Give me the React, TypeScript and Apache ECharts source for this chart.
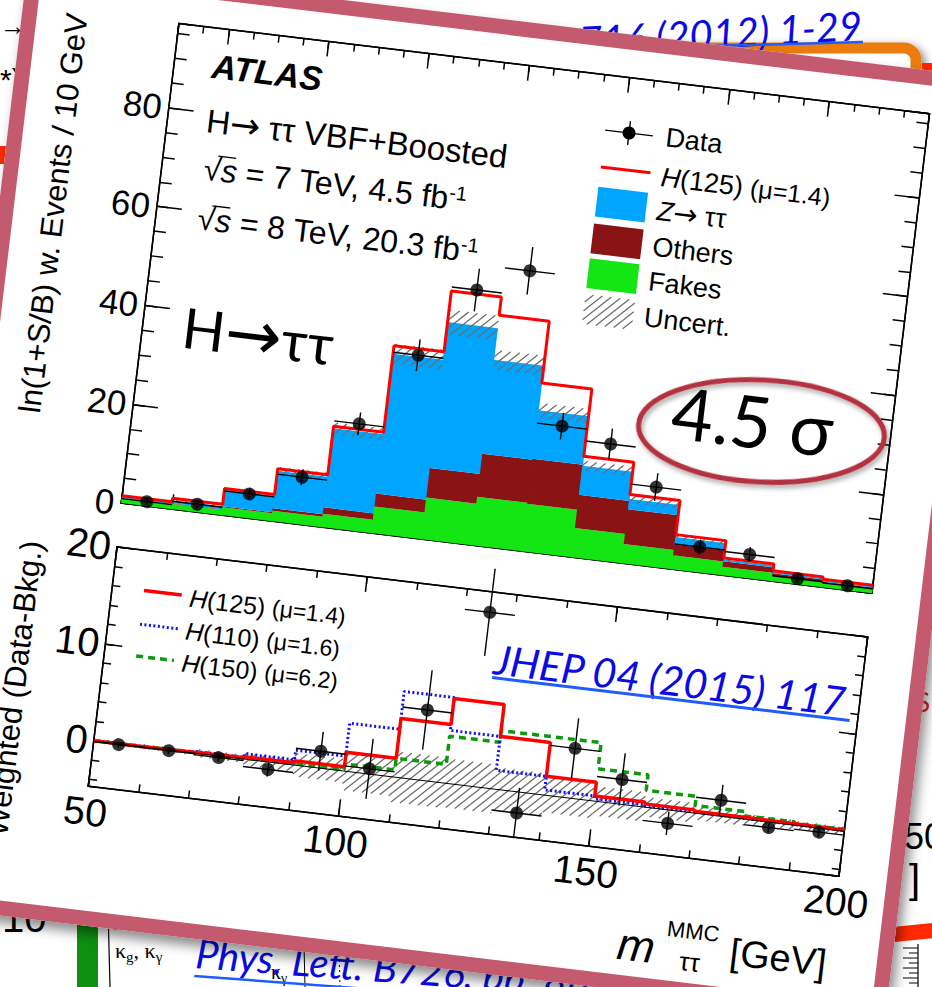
import React, { useEffect, useRef } from "react";
import * as echarts from "echarts";

// ---------------- data ----------------
const binLow = [50, 60, 70, 80, 90, 100, 110, 120, 130, 140, 150, 160, 170, 180, 190];
const binHigh = [60, 70, 80, 90, 100, 110, 120, 130, 140, 150, 160, 170, 180, 190, 200];
const binCenter = [55, 65, 75, 85, 95, 105, 115, 125, 135, 145, 155, 165, 175, 185, 195];

// upper panel: ln(1+S/B)-weighted events / 10 GeV
const fakes = [0.9, 1.1, 1.6, 2.1, 2.7, 5.4, 8.4, 9.8, 9.6, 5.9, 3.9, 2.8, 1.7, 1.1, 0.8];
const others = [0.05, 0.1, 0.2, 0.5, 1.3, 2.6, 6.0, 8.7, 9.1, 6.7, 7.0, 2.2, 1.1, 0.5, 0.3];
const ztautau = [0.35, 0.6, 3.3, 7.6, 16.0, 28.3, 29.5, 19.0, 9.8, 5.9, 2.1, 1.5, 0.4, 0.3, 0.3];
const bkgUncert = [0.2, 0.3, 0.5, 0.8, 1.2, 2.0, 2.5, 2.0, 1.5, 1.0, 0.8, 0.5, 0.3, 0.2, 0.2];
const sigPlusBkg = [1.5, 2.2, 5.4, 10.6, 20.4, 37.9, 50.2, 46.5, 34.0, 20.4, 13.9, 7.0, 3.5, 2.1, 1.6];
const dataEvents = [0.9, 1.6, 4.9, 9.5, 21.5, 36.6, 51.0, 56.1, 25.9, 23.5, 16.0, 5.1, 4.8, 1.1, 0.9];
const dataEventsErr = [0.7, 0.8, 1.2, 1.6, 2.3, 3.2, 4.3, 4.8, 2.7, 3.1, 2.8, 1.5, 1.5, 0.7, 0.7];

// lower panel: weighted (Data - Bkg.)
const weightedDiff = [-0.1, -0.1, -0.2, -0.8, 1.7, 0.5, 7.2, 17.9, -2.2, 5.1, 2.5, -1.4, 1.6, -0.6, -0.45];
const weightedDiffErr = [0.3, 0.35, 0.4, 0.75, 2.0, 3.1, 4.1, 4.5, 2.6, 3.1, 2.7, 1.2, 1.6, 0.5, 0.5];
const h125 = [0.0, 0.05, 0.1, 0.2, 0.4, 1.9, 6.0, 8.7, 5.4, 1.9, 0.5, 0.3, 0.15, 0.1, 0.05];
const h110 = [0.0, 0.05, 0.15, 0.5, 1.5, 4.9, 8.8, 5.4, 1.9, 0.5, 0.2, 0.1, 0.05, 0.03, 0.02];
const h150 = [0.0, 0.02, 0.05, 0.1, 0.1, 0.7, 1.9, 4.8, 6.0, 6.0, 3.3, 1.7, 0.75, 0.3, 0.15];
const weightedUncert = [0.2, 0.25, 0.4, 0.7, 1.2, 2.0, 2.6, 2.5, 2.2, 1.8, 1.5, 1.0, 0.7, 0.5, 0.4];

const upperYLabels = [0, 20, 40, 60, 80];
const lowerYLabels = [0, 10, 20];
const lowerXLabels = [50, 100, 150, 200];

// ---------------- styles ----------------
const FONT = '"Liberation Sans", Arial, Helvetica, sans-serif';
const SERIF = '"Liberation Serif", "DejaVu Serif", serif';
const SLIDE = 'Lato, "Open Sans", "DejaVu Sans", sans-serif';
const ARROW = '"DejaVu Sans", sans-serif';
const C_Z = "#00a5ff";
const C_OTH = "#8a1313";
const C_FAKE = "#14e614";
const C_RED = "#ff0000";
const C_HATCH = "#6e6e6e";
const C_LINK = "#0a0ae6";
const C_ULINE = "#1f5cff";

function hatchLines(x0: number, y0: number, x1: number, y1: number, spacing: number, stroke: string, lw: number) {
  const out: any[] = [];
  const cMin = x0 + y0;
  const cMax = x1 + y1;
  for (let c = Math.ceil(cMin / spacing) * spacing; c <= cMax; c += spacing) {
    const xa = Math.max(x0, c - y1);
    const xb = Math.min(x1, c - y0);
    if (xb - xa > 0.4) {
      out.push({ type: "line", silent: true, shape: { x1: xa, y1: c - xa, x2: xb, y2: c - xb }, style: { stroke, lineWidth: lw } });
    }
  }
  return out;
}

function stepData(vals: number[]) {
  const d = binLow.map((x, i) => [x, vals[i]]);
  d.push([binHigh[binHigh.length - 1], vals[vals.length - 1]]);
  return d;
}

const tickStyle = { color: "#000", width: 1.5 };

function valAxis(extra: any) {
  return {
    type: "value",
    splitLine: { show: false },
    axisLine: { show: true, onZero: false, lineStyle: { color: "#000", width: 1.5 } },
    axisTick: { show: true, inside: true, length: 8, lineStyle: tickStyle },
    axisLabel: { show: false },
    ...extra,
  };
}

function buildMainOption() {
  const bkgTotal = fakes.map((f, i) => f + others[i] + ztautau[i]);
  const stackRows = binLow.map((x, i) => [x, binHigh[i], fakes[i], others[i], ztautau[i]]);
  const uncRows = binLow.map((x, i) => [x, binHigh[i], bkgTotal[i] - bkgUncert[i], bkgTotal[i] + bkgUncert[i]]);
  const lowUncRows = binLow.map((x, i) => [x, binHigh[i], -weightedUncert[i], weightedUncert[i]]);
  const upErrRows = binCenter.map((x, i) => [x, dataEvents[i], dataEventsErr[i], binLow[i], binHigh[i]]);
  const lowErrRows = binCenter.map((x, i) => [x, weightedDiff[i], weightedDiffErr[i], binLow[i], binHigh[i]]);

  const errRender = (params: any, api: any) => {
    const x = api.value(0), v = api.value(1), e = api.value(2), x0 = api.value(3), x1 = api.value(4);
    const pt = api.coord([x, v + e]);
    const pb = api.coord([x, v - e]);
    const pl = api.coord([x0, v]);
    const pr = api.coord([x1, v]);
    return {
      type: "group",
      children: [
        { type: "line", shape: { x1: pt[0], y1: pt[1], x2: pb[0], y2: pb[1] }, style: { stroke: "#000", lineWidth: 1.4 } },
        { type: "line", shape: { x1: pl[0], y1: pl[1], x2: pr[0], y2: pr[1] }, style: { stroke: "#000", lineWidth: 1.4 } },
      ],
    };
  };

  const hatchRender = (spacing: number) => (params: any, api: any) => {
    const a = api.coord([api.value(0), api.value(3)]);
    const b = api.coord([api.value(1), api.value(2)]);
    return { type: "group", children: hatchLines(a[0], a[1], b[0], b[1], spacing, C_HATCH, 1.3) };
  };

  const lab = (size: number, extra: any = {}) => ({
    show: true,
    fontFamily: FONT,
    fontSize: size,
    color: "#000",
    ...extra,
  });

  const upperGrid = { left: 157, top: 43, width: 756, height: 483 };
  const lowerGrid = { left: 158, top: 570, width: 756, height: 241 };

  const xAxis = [
    valAxis({ gridIndex: 0, position: "bottom", min: 50, max: 200, minInterval: 20, maxInterval: 20, axisTick: { inside: true, length: 15, lineStyle: tickStyle } }),
    valAxis({ gridIndex: 0, position: "bottom", min: 50, max: 200, minInterval: 5, maxInterval: 5, axisTick: { inside: true, length: 7, lineStyle: tickStyle } }),
    valAxis({ gridIndex: 0, position: "top", min: 50, max: 200, minInterval: 20, maxInterval: 20, axisTick: { inside: true, length: 15, lineStyle: tickStyle } }),
    valAxis({ gridIndex: 0, position: "top", min: 50, max: 200, minInterval: 5, maxInterval: 5, axisTick: { inside: true, length: 7, lineStyle: tickStyle } }),
    valAxis({
      gridIndex: 1, position: "bottom", min: lowerXLabels[0], max: lowerXLabels[lowerXLabels.length - 1], minInterval: 50, maxInterval: 50,
      axisTick: { inside: true, length: 17, lineStyle: tickStyle },
      axisLabel: lab(39, { margin: 6 }),
    }),
    valAxis({ gridIndex: 1, position: "bottom", min: 50, max: 200, minInterval: 10, maxInterval: 10, axisTick: { inside: true, length: 8, lineStyle: tickStyle } }),
    valAxis({ gridIndex: 1, position: "top", min: 50, max: 200, minInterval: 50, maxInterval: 50, axisTick: { inside: true, length: 15, lineStyle: tickStyle } }),
    valAxis({ gridIndex: 1, position: "top", min: 50, max: 200, minInterval: 10, maxInterval: 10, axisTick: { inside: true, length: 7, lineStyle: tickStyle } }),
  ];

  const yAxis = [
    valAxis({
      gridIndex: 0, position: "left", min: upperYLabels[0], max: 97, minInterval: 20, maxInterval: 20,
      axisTick: { inside: true, length: 25, lineStyle: tickStyle },
      axisLabel: lab(35, { margin: 7, showMaxLabel: false }),
    }),
    valAxis({ gridIndex: 0, position: "left", min: 0, max: 97, minInterval: 5, maxInterval: 5, axisTick: { inside: true, length: 12, lineStyle: tickStyle } }),
    valAxis({ gridIndex: 0, position: "right", min: 0, max: 97, minInterval: 20, maxInterval: 20, axisTick: { inside: true, length: 25, lineStyle: tickStyle } }),
    valAxis({ gridIndex: 0, position: "right", min: 0, max: 97, minInterval: 5, maxInterval: 5, axisTick: { inside: true, length: 12, lineStyle: tickStyle } }),
    valAxis({
      gridIndex: 1, position: "left", min: -4.7, max: lowerYLabels[lowerYLabels.length - 1], minInterval: 10, maxInterval: 10,
      axisTick: { inside: true, length: 17, lineStyle: tickStyle },
      axisLabel: lab(40, { margin: 6, showMinLabel: false }),
    }),
    valAxis({ gridIndex: 1, position: "left", min: -4.7, max: 20, minInterval: 2, maxInterval: 2, axisTick: { inside: true, length: 8, lineStyle: tickStyle } }),
    valAxis({ gridIndex: 1, position: "right", min: -4.7, max: 20, minInterval: 10, maxInterval: 10, axisTick: { inside: true, length: 17, lineStyle: tickStyle } }),
    valAxis({ gridIndex: 1, position: "right", min: -4.7, max: 20, minInterval: 2, maxInterval: 2, axisTick: { inside: true, length: 8, lineStyle: tickStyle } }),
  ];

  const series: any[] = [
    {
      type: "custom", name: "stack", xAxisIndex: 0, yAxisIndex: 0, data: stackRows, z: 1, silent: true,
      encode: { x: [0, 1], y: [2, 3, 4] },
      renderItem: (params: any, api: any) => {
        const x0 = api.value(0), x1 = api.value(1);
        const f = api.value(2), o = api.value(3), zz = api.value(4);
        const parts = [[0, f, C_FAKE], [f, f + o, C_OTH], [f + o, f + o + zz, C_Z]];
        return {
          type: "group",
          children: parts.map((p: any) => {
            const a = api.coord([x0, p[1]]);
            const b = api.coord([x1, p[0]]);
            return { type: "rect", shape: { x: a[0] - 0.3, y: a[1], width: b[0] - a[0] + 0.6, height: b[1] - a[1] }, style: { fill: p[2] } };
          }),
        };
      },
    },
    {
      type: "custom", name: "Uncert.", xAxisIndex: 0, yAxisIndex: 0, data: uncRows, z: 2, silent: true,
      encode: { x: [0, 1], y: [2, 3] }, renderItem: hatchRender(9),
    },
    {
      type: "line", name: "H(125)", xAxisIndex: 0, yAxisIndex: 0, data: stepData(sigPlusBkg), step: "end", symbol: "none", z: 3,
      lineStyle: { color: C_RED, width: 3 },
    },
    {
      type: "custom", name: "dataErr", xAxisIndex: 0, yAxisIndex: 0, data: upErrRows, z: 4, silent: true,
      encode: { x: 0, y: 1 }, renderItem: errRender,
    },
    {
      type: "scatter", name: "Data", xAxisIndex: 0, yAxisIndex: 0, z: 5, symbol: "circle", symbolSize: 13,
      itemStyle: { color: "#000" }, data: binCenter.map((x, i) => [x, dataEvents[i]]),
    },
    // lower panel
    {
      type: "custom", name: "lowUnc", xAxisIndex: 4, yAxisIndex: 4, data: lowUncRows, z: 1, silent: true,
      encode: { x: [0, 1], y: [2, 3] }, renderItem: hatchRender(9),
    },
    {
      type: "line", name: "H(150)", xAxisIndex: 4, yAxisIndex: 4, data: stepData(h150), step: "end", symbol: "none", z: 2,
      lineStyle: { color: "#0c990c", width: 3.5, type: [7, 5] },
    },
    {
      type: "line", name: "H(110)", xAxisIndex: 4, yAxisIndex: 4, data: stepData(h110), step: "end", symbol: "none", z: 2,
      lineStyle: { color: "#1010ee", width: 3, type: [2, 2.5] },
    },
    {
      type: "line", name: "H(125) low", xAxisIndex: 4, yAxisIndex: 4, data: stepData(h125), step: "end", symbol: "none", z: 3,
      lineStyle: { color: C_RED, width: 3.5 },
      markLine: { silent: true, symbol: "none", label: { show: false }, lineStyle: { color: "#000", width: 1, type: "solid" }, data: [{ yAxis: 0 }] },
    },
    {
      type: "custom", name: "lowErr", xAxisIndex: 4, yAxisIndex: 4, data: lowErrRows, z: 4, silent: true,
      encode: { x: 0, y: 1 }, renderItem: errRender,
    },
    {
      type: "scatter", name: "Weighted data", xAxisIndex: 4, yAxisIndex: 4, z: 5, symbol: "circle", symbolSize: 13,
      itemStyle: { color: "#000" }, data: binCenter.map((x, i) => [x, weightedDiff[i]]),
    },
  ];

  const t = (x: number, y: number, text: string, font: string, extra: any = {}, elExtra: any = {}) => ({
    type: "text", x, y, silent: true, z: 50, ...elExtra,
    style: { text, font, fill: "#000", textAlign: "left", textVerticalAlign: "middle", ...extra },
  });

  const legRowText = (x: number, y: number, main: string, mu: string, size: number, muSize: number) =>
    t(x, y, `{i|H}(${main}) {s|(μ=${mu})}`, `${size}px ${FONT}`, {
      rich: {
        i: { fontStyle: "italic", fontSize: size, fontFamily: FONT },
        s: { fontSize: muSize, fontFamily: FONT },
      },
    });

  const sqrtRich = {
    i: { fontStyle: "italic", fontSize: 32, fontFamily: FONT },
    sup: { fontSize: 20, fontFamily: FONT, verticalAlign: "top", lineHeight: 20 },
  };

  const graphics: any[] = [
    // upper texts
    t(195, 81, "ATLAS", `italic bold 34px ${FONT}`),
    t(196, 136, "H{a|→} ττ VBF+Boosted", `33px ${FONT}`, { rich: { a: { fontFamily: ARROW, fontSize: 36 } } }),
    t(199, 184, "√{i|s} = 7 TeV, 4.5 fb{sup|-1}", `32px ${FONT}`, { rich: sqrtRich }),
    { type: "line", silent: true, z: 50, shape: { x1: 212, y1: 170, x2: 230, y2: 170 }, style: { stroke: "#000", lineWidth: 1.3 } },
    t(199, 234, "√{i|s} = 8 TeV, 20.3 fb{sup|-1}", `32px ${FONT}`, { rich: sqrtRich }),
    { type: "line", silent: true, z: 50, shape: { x1: 212, y1: 220, x2: 230, y2: 220 }, style: { stroke: "#000", lineWidth: 1.3 } },
    t(197, 343, "H{a|→}ττ", `56px ${SLIDE}`, { rich: { a: { fontFamily: ARROW, fontSize: 68 } } }),
    // 4.5 sigma
    {
      type: "ellipse", x: 784, y: 378, rotation: 0.07, z: 49, silent: true,
      shape: { cx: 0, cy: 0, rx: 123, ry: 51 },
      style: { fill: "none", stroke: "#b3333f", lineWidth: 5, shadowBlur: 5, shadowColor: "rgba(0,0,0,0.35)", shadowOffsetX: 2, shadowOffsetY: 3 },
    },
    t(774, 368, "4.5 σ", `72px ${SLIDE}`, { textAlign: "center" }),
    // JHEP link
    t(546, 636, "JHEP 04 (2015) 117", `italic 41px ${SLIDE}`, { fill: C_LINK }),
    { type: "line", silent: true, z: 50, shape: { x1: 546, y1: 655, x2: 906, y2: 655 }, style: { stroke: C_ULINE, lineWidth: 3 } },

    // upper legend
    { type: "line", silent: true, z: 50, shape: { x1: 593, y1: 98, x2: 641, y2: 98 }, style: { stroke: "#000", lineWidth: 1.4 } },
    { type: "line", silent: true, z: 50, shape: { x1: 617, y1: 86, x2: 617, y2: 110 }, style: { stroke: "#000", lineWidth: 1.4 } },
    { type: "circle", silent: true, z: 51, shape: { cx: 617, cy: 98, r: 6.5 }, style: { fill: "#000" } },
    t(654, 98, "Data", `27px ${FONT}`),
    { type: "line", silent: true, z: 50, shape: { x1: 593, y1: 135, x2: 643, y2: 135 }, style: { stroke: C_RED, lineWidth: 3 } },
    legRowText(654, 138, "125", "1.4", 27, 25),
    { type: "rect", silent: true, z: 50, shape: { x: 593, y: 155, width: 50, height: 30 }, style: { fill: C_Z } },
    t(654, 172, "{i|Z}{a|→} ττ", `27px ${FONT}`, {
      rich: { i: { fontStyle: "italic", fontSize: 27, fontFamily: FONT }, a: { fontFamily: ARROW, fontSize: 29 } },
    }),
    { type: "rect", silent: true, z: 50, shape: { x: 593, y: 192, width: 50, height: 30 }, style: { fill: C_OTH } },
    t(654, 208, "Others", `27px ${FONT}`),
    { type: "rect", silent: true, z: 50, shape: { x: 593, y: 227, width: 50, height: 30 }, style: { fill: C_FAKE } },
    t(654, 243, "Fakes", `27px ${FONT}`),
    { type: "group", silent: true, z: 50, children: hatchLines(593, 263, 643, 293, 9, C_HATCH, 1.3) },
    t(654, 279, "Uncert.", `27px ${FONT}`),

    // lower legend
    { type: "line", silent: true, z: 50, shape: { x1: 190, y1: 610, x2: 228, y2: 610 }, style: { stroke: C_RED, lineWidth: 3.5 } },
    legRowText(236, 612, "125", "1.4", 25, 23),
    { type: "line", silent: true, z: 50, shape: { x1: 190, y1: 644, x2: 228, y2: 644 }, style: { stroke: "#1010ee", lineWidth: 3, lineDash: [2, 2.5] } },
    legRowText(236, 645, "110", "1.6", 25, 23),
    { type: "line", silent: true, z: 50, shape: { x1: 190, y1: 676, x2: 228, y2: 676 }, style: { stroke: "#0c990c", lineWidth: 3.5, lineDash: [7, 5] } },
    legRowText(236, 677, "150", "6.2", 25, 23),

    // axis titles
    t(55, 45, "ln(1+S/B) w. Events / 10 GeV", `31px ${FONT}`, { textAlign: "right" }, { rotation: Math.PI / 2 }),
    t(73, 574, "Weighted (Data-Bkg.)", `31px ${FONT}`, { textAlign: "right" }, { rotation: Math.PI / 2 }),
    t(912, 899, "[GeV]", `38px ${FONT}`, { textAlign: "right" }),
    t(721, 904, "m", `italic 45px ${FONT}`, { textAlign: "center" }),
    t(776, 883, "MMC", `22px ${FONT}`, { textAlign: "center" }),
    t(776, 914, "ττ", `26px ${FONT}`, { textAlign: "center" }),
  ];

  return {
    animation: false,
    backgroundColor: "transparent",
    grid: [
      { ...upperGrid, containLabel: false },
      { ...lowerGrid, containLabel: false },
    ],
    xAxis,
    yAxis,
    series,
    graphic: { elements: graphics },
  };
}

function buildBackgroundOption() {
  const txt = (x: number, y: number, text: string, font: string, fill: string, extra: any = {}, el: any = {}) => ({
    type: "text", x, y, silent: true, ...el,
    style: { text, font, fill, textAlign: "left", textVerticalAlign: "middle", ...extra },
  });
  const ruler: any[] = [];
  const rulerYs = [948, 953, 958, 963, 968, 973, 978, 983];
  rulerYs.forEach((y, i) => {
    ruler.push({ type: "line", silent: true, shape: { x1: i % 2 === 0 ? 903 : 909, y1: y, x2: 918, y2: y }, style: { stroke: "#000", lineWidth: 1 } });
  });
  return {
    animation: false,
    graphic: {
      elements: [
        // orange framed slide (top right)
        {
          type: "rect", silent: true, shape: { x: 150, y: 48, width: 766, height: 320, r: 12 },
          style: { fill: "#fff", stroke: "#ec7c0c", lineWidth: 11, shadowBlur: 8, shadowColor: "rgba(0,0,0,0.45)", shadowOffsetX: 4, shadowOffsetY: 3 },
        },
        { type: "rect", silent: true, shape: { x: 922, y: 63, width: 20, height: 11 }, style: { fill: "#ff2500" } },
        txt(862, 25, "B 716 (2012) 1-29", `italic 40px ${SLIDE}`, C_LINK, { textAlign: "right" }, { rotation: 0.055 }),
        { type: "line", silent: true, shape: { x1: 520, y1: 51, x2: 863, y2: 42 }, style: { stroke: C_ULINE, lineWidth: 2.5 } },
        // left edge fragments
        txt(0, 26, "→", `26px ${FONT}`, "#000"),
        txt(0, 79, "*)", `30px ${FONT}`, "#000"),
        { type: "rect", silent: true, shape: { x: 0, y: 146, width: 8, height: 18 }, style: { fill: "#ff2a00" } },
        // right edge fragments
        txt(916, 702, "S", `26px ${SLIDE}`, "#e02020"),
        txt(904, 836, "50", `36px ${FONT}`, "#000"),
        txt(909, 879, "]", `40px ${FONT}`, "#000"),
        { type: "rect", silent: true, x: 893, y: 927, rotation: 0.1, shape: { x: 0, y: 0, width: 60, height: 15 }, style: { fill: "#ff2a00" } },
        { type: "line", silent: true, shape: { x1: 918, y1: 944, x2: 918, y2: 987 }, style: { stroke: "#000", lineWidth: 1.2 } },
        ...ruler,
        // bottom-left fragments
        txt(2, 918, "10", `40px ${FONT}`, "#000"),
        { type: "rect", silent: true, shape: { x: 77, y: 910, width: 21, height: 80 }, style: { fill: "#0f8f0f" } },
        { type: "line", silent: true, shape: { x1: 108, y1: 908, x2: 110, y2: 987 }, style: { stroke: "#000", lineWidth: 1.2 } },
        txt(113, 922, "Mo", `24px ${SERIF}`, "#000"),
        txt(115, 950, "κ{s|g}, κ{s|γ}", `22px ${SERIF}`, "#000", { rich: { s: { fontSize: 15, fontFamily: SERIF, verticalAlign: "bottom", lineHeight: 28 } } }),
        txt(271, 972, "κ{s|γ}", `20px ${SERIF}`, "#000", { rich: { s: { fontSize: 14, fontFamily: SERIF, verticalAlign: "bottom", lineHeight: 26 } } }),
        { type: "line", silent: true, shape: { x1: 304, y1: 945, x2: 305, y2: 987 }, style: { stroke: "#000", lineWidth: 1 } },
        { type: "line", silent: true, shape: { x1: 339, y1: 950, x2: 340, y2: 987 }, style: { stroke: "#000", lineWidth: 1, lineDash: [2, 3] } },
        {
          type: "group", silent: true, x: 196, y: 953, rotation: -0.075,
          children: [
            { type: "text", x: 0, y: 0, style: { text: "Phys. Lett. B726, pp. 88-119", font: `italic 40px ${SLIDE}`, fill: C_LINK, textAlign: "left", textVerticalAlign: "middle" } },
            { type: "line", shape: { x1: 0, y1: 23, x2: 480, y2: 23 }, style: { stroke: C_ULINE, lineWidth: 2.5 } },
          ],
        },
      ],
    },
  };
}

export default function App() {
  const bgRef = useRef<HTMLDivElement>(null);
  const chartRef = useRef<HTMLDivElement>(null);

  useEffect(() => {
    if (!bgRef.current || !chartRef.current) return;
    const bg = echarts.init(bgRef.current, undefined, { renderer: "svg" });
    bg.setOption(buildBackgroundOption() as any);
    const chart = echarts.init(chartRef.current, undefined, { renderer: "svg" });
    chart.setOption(buildMainOption() as any);
    return () => {
      chart.dispose();
      bg.dispose();
    };
  }, []);

  return (
    <div style={{ position: "fixed", left: 0, top: 0, width: 932, height: 987, overflow: "hidden", background: "#fff" }}>
      <div ref={bgRef} style={{ position: "absolute", left: 0, top: 0, width: 932, height: 987 }} />
      <div
        style={{
          position: "absolute",
          left: -32,
          top: 16.7,
          width: 977,
          height: 950,
          transform: "rotate(6.85deg)",
          background: "#fff",
          boxShadow: "5px 7px 12px rgba(0,0,0,0.45)",
        }}
      >
        <div ref={chartRef} style={{ position: "absolute", left: 0, top: 0, width: 977, height: 941 }} />
        <div
          style={{
            position: "absolute",
            left: 0,
            top: 0,
            width: 977,
            height: 950,
            border: "15px solid #c35a6e",
            boxSizing: "border-box",
            pointerEvents: "none",
          }}
        />
      </div>
    </div>
  );
}
